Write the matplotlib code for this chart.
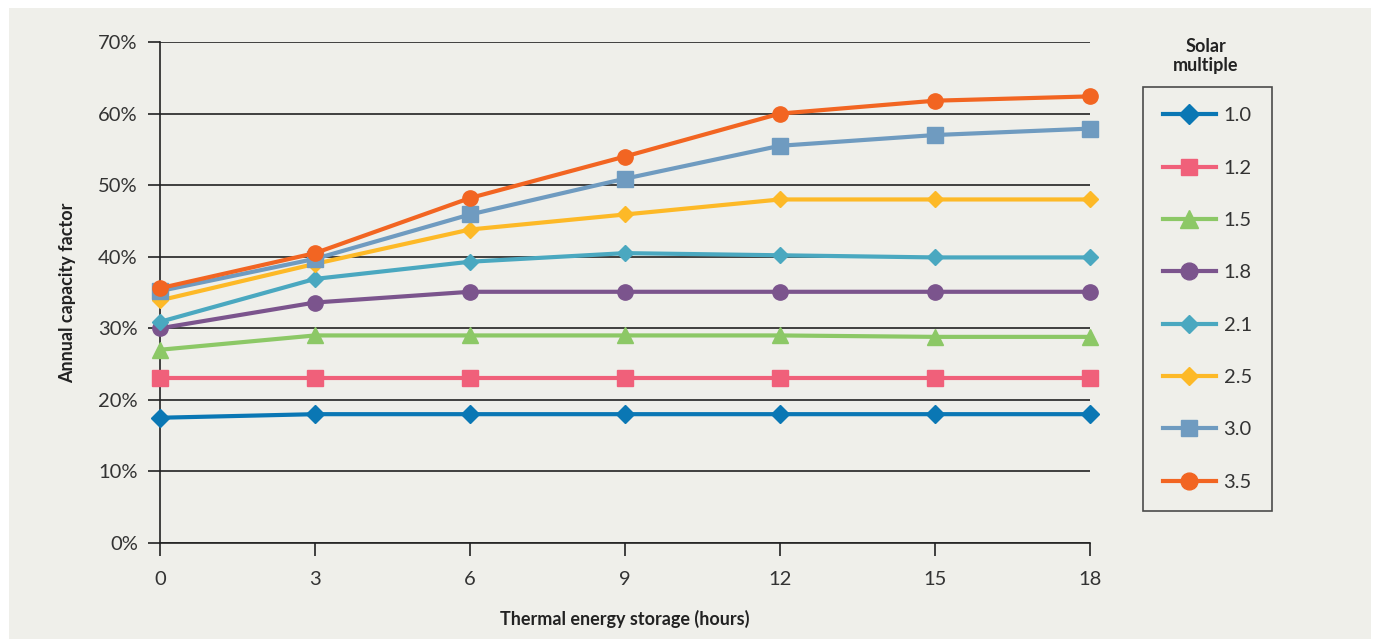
import matplotlib.pyplot as plt
from matplotlib.patches import Rectangle
from matplotlib.ticker import FuncFormatter

plt.rcParams['font.family'] = ['Lato', 'DejaVu Sans']

# thermal energy storage (hours)
hours = [0, 3, 6, 9, 12, 15, 18]

# annual capacity factor (%) per solar multiple
sm_labels = ['1.0', '1.2', '1.5', '1.8', '2.1', '2.5', '3.0', '3.5']
cf_10 = [17.5, 18.0, 18.0, 18.0, 18.0, 18.0, 18.0]
cf_12 = [23.0, 23.0, 23.0, 23.0, 23.0, 23.0, 23.0]
cf_15 = [27.0, 29.0, 29.0, 29.0, 29.0, 28.8, 28.8]
cf_18 = [30.0, 33.6, 35.1, 35.1, 35.1, 35.1, 35.1]
cf_21 = [30.9, 36.9, 39.3, 40.5, 40.2, 39.9, 39.9]
cf_25 = [33.9, 39.0, 43.8, 45.9, 48.0, 48.0, 48.0]
cf_30 = [35.2, 39.7, 45.9, 50.9, 55.5, 57.0, 57.9]
cf_35 = [35.6, 40.5, 48.2, 54.0, 60.0, 61.8, 62.4]
series = [cf_10, cf_12, cf_15, cf_18, cf_21, cf_25, cf_30, cf_35]

colors = ['#0a77b4', '#f0607a', '#8cc866', '#7b548d', '#4aa8c0', '#fdb927', '#6f9bc0', '#f26522']
markers = ['D', 's', '^', 'o', 'D', 'D', 's', 'o']
msizes = [9, 11, 12, 11, 8, 8, 11, 11]

bg = '#efefea'
fig = plt.figure(figsize=(13.78, 6.4), dpi=100)
fig.patch.set_facecolor('white')
fig.patches.append(Rectangle((9 / 1378, 1 / 640), 1362 / 1378, 631 / 640,
                             transform=fig.transFigure, facecolor=bg, edgecolor='none', zorder=-10))

ax = fig.add_axes([160 / 1378, 97 / 640, 930 / 1378, 501 / 640])
ax.set_facecolor('none')

for vals, lab, c, m, ms in zip(series, sm_labels, colors, markers, msizes):
    ax.plot(hours, vals, color=c, lw=3, marker=m, ms=ms, mec=c, label=lab,
            clip_on=False, zorder=3)

ax.set_xlim(0, 18)
ax.set_ylim(0, 70)
ax.set_xticks(hours)
ax.set_yticks(range(0, 71, 10))
ax.yaxis.set_major_formatter(FuncFormatter(lambda v, p: '%d%%' % v))
ax.grid(axis='y', color='#222222', lw=1.2)
ax.set_axisbelow(True)
for s in ['top', 'right']:
    ax.spines[s].set_visible(False)
for s in ['left', 'bottom']:
    ax.spines[s].set_color('#222222')
    ax.spines[s].set_linewidth(1.2)
ax.tick_params(axis='both', direction='out', length=9, width=1.2, color='#222222',
               labelsize=14.5, labelcolor='#333333')
ax.tick_params(axis='x', pad=11)
ax.tick_params(axis='y', pad=7)

ax.set_xlabel('Thermal energy storage (hours)', fontsize=13, fontweight='bold',
              color='#222222', labelpad=16)
ax.set_ylabel('Annual capacity factor', fontsize=13, fontweight='bold',
              color='#222222', labelpad=16)

fig.text(1206 / 1378, 1 - 56 / 640, 'Solar\nmultiple', ha='center', va='center',
         fontsize=13, fontweight='bold', color='#222222', linespacing=1.15)

leg = ax.legend(loc='upper left', bbox_to_anchor=(1143 / 1378, 1 - 87 / 640),
                bbox_transform=fig.transFigure, frameon=True, fancybox=False,
                fontsize=14.5, labelspacing=1.75, handlelength=2.6, handletextpad=0.4,
                borderpad=1.0, borderaxespad=0, markerscale=1.1)
leg.get_frame().set_edgecolor('#222222')
leg.get_frame().set_facecolor(bg)
leg.get_frame().set_linewidth(1.2)
for t in leg.get_texts():
    t.set_color('#333333')

fig.savefig('out.png', dpi=100, facecolor=fig.get_facecolor())
